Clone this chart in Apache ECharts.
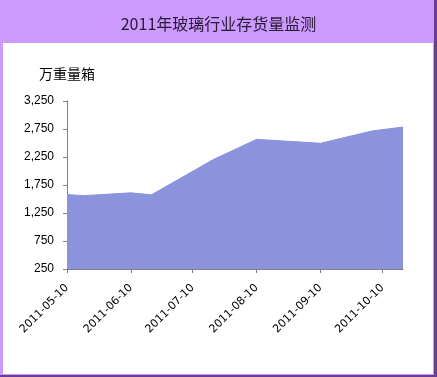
<!DOCTYPE html>
<html>
<head>
<meta charset="utf-8">
<script src="https://cdn.jsdelivr.net/npm/echarts@6/dist/echarts.min.js"></script>
<style>
  html, body { margin: 0; padding: 0; }
  #main { width: 437px; height: 377px; }
</style>
</head>
<body>
<div id="main"></div>
<script>
// 数据
var dates = ['2011-05-10', '2011-05-18', '2011-06-10', '2011-06-20', '2011-07-20',
             '2011-08-10', '2011-09-10', '2011-10-05', '2011-10-20'];
var values = [1580, 1560, 1610, 1575, 2205, 2565, 2495, 2715, 2785];
var tickDates = ['2011-05-10', '2011-06-10', '2011-07-10', '2011-08-10', '2011-09-10', '2011-10-10'];

var myChart = echarts.init(document.getElementById('main'));

// 日期转时间戳，x轴按数值轴处理
function ts(d) { return +echarts.time.parse(d); }
var tickValues = tickDates.map(ts);

var option = {
    backgroundColor: '#cc99ff',
    animation: false,
    graphic: [
        { type: 'rect', shape: { x: 3, y: 43, width: 430, height: 331 }, style: { fill: '#fff' }, z: -10 },
        { type: 'rect', shape: { x: 434, y: 0, width: 3, height: 377 }, style: { fill: '#6b3e93' }, z: -10 },
        { type: 'rect', shape: { x: 0, y: 375, width: 437, height: 2 }, style: { fill: '#6b3e93' }, z: -10 }
    ],
    title: {
        text: '2011年玻璃行业存货量监测',
        left: 'center',
        top: 11,
        textStyle: {
            fontFamily: 'Noto Sans CJK SC',
            fontSize: 16,
            fontWeight: 'normal',
            color: '#2a1a33'
        }
    },
    grid: { left: 67, right: 34, top: 101, bottom: 108 },
    xAxis: {
        type: 'value',
        min: ts(dates[0]),
        max: ts(dates[dates.length - 1]),
        axisLine: { lineStyle: { color: '#808080' } },
        axisTick: { show: true, customValues: tickValues, length: 4, lineStyle: { color: '#808080' } },
        axisLabel: {
            customValues: tickValues,
            rotate: 45,
            margin: 17,
            fontFamily: 'DejaVu Sans',
            fontSize: 11,
            color: '#000',
            formatter: function (v) { return echarts.time.format(v, '{yyyy}-{MM}-{dd}'); }
        },
        splitLine: { show: false }
    },
    yAxis: {
        type: 'value',
        min: 250,
        max: 3250,
        interval: 500,
        name: '万重量箱',
        nameGap: 20,
        nameTextStyle: { fontFamily: 'Noto Sans CJK SC', fontSize: 14, color: '#000' },
        axisLine: { show: true, lineStyle: { color: '#808080' } },
        axisTick: { show: true, length: 4, lineStyle: { color: '#808080' } },
        axisLabel: {
            margin: 13,
            fontFamily: 'Liberation Sans',
            fontSize: 12,
            color: '#000',
            formatter: function (v) { return v.toLocaleString('en-US'); }
        },
        splitLine: { show: false }
    },
    series: [{
        type: 'line',
        data: dates.map(function (d, i) { return [ts(d), values[i]]; }),
        showSymbol: false,
        lineStyle: { color: '#8a93dc', width: 1 },
        itemStyle: { color: '#8a93dc' },
        areaStyle: { color: '#8a93dc', opacity: 1 }
    }]
};

myChart.setOption(option);
</script>
</body>
</html>
